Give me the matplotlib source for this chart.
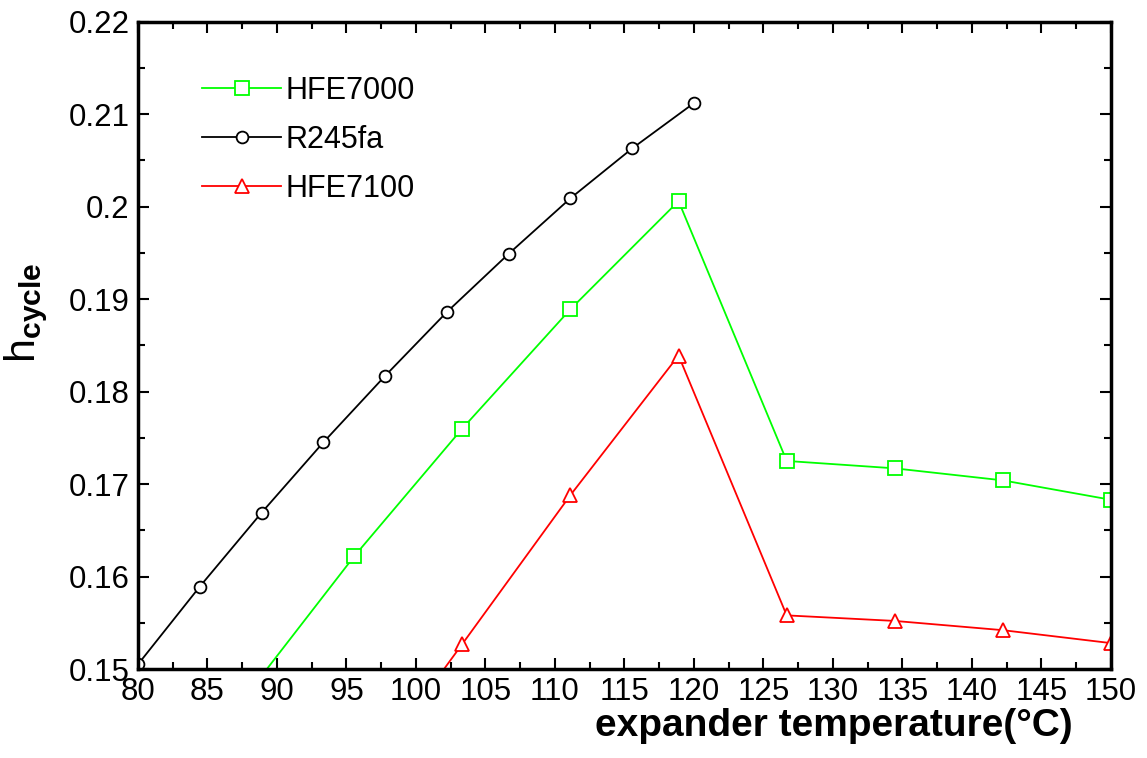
import numpy as np
import matplotlib
matplotlib.use('Agg')
import matplotlib.pyplot as plt

plt.rcParams['font.family'] = ['Liberation Sans', 'DejaVu Sans']
plt.rcParams['mathtext.fontset'] = 'custom'
plt.rcParams['mathtext.rm'] = 'Liberation Sans'
plt.rcParams['mathtext.bf'] = 'Liberation Sans:bold'

#Expander temperatures
t_r245fa = [80.0, 84.44, 88.89, 93.33, 97.78, 102.22, 106.67, 111.11, 115.56, 120.0]
t_hfe7000 = [87.78, 95.56, 103.33, 111.11, 118.89, 126.67, 134.44, 142.22, 150.0]
t_hfe7100 = [95.56, 103.33, 111.11, 118.89, 126.67, 134.44, 142.22, 150.0]
#Cycle efficiencies
eta_r245fa = [0.1505, 0.1589, 0.1669, 0.1745, 0.1817, 0.1886, 0.1949, 0.2009, 0.2063, 0.2112]
eta_hfe7000 = [0.1471, 0.1622, 0.1760, 0.1889, 0.2006, 0.1725, 0.1717, 0.1704, 0.1683]
eta_hfe7100 = [0.1367, 0.1527, 0.1688, 0.1839, 0.1558, 0.1552, 0.1542, 0.1528]

fig = plt.figure(figsize=(11.47, 7.58), dpi=100)
ax = fig.add_axes([0.1203, 0.1174, 0.8483, 0.854])

ax.plot(t_hfe7000, eta_hfe7000, color='#00ff00', lw=1.3, marker='s', ms=9.5,
        mfc='white', mec='#00ff00', mew=1.3, label='HFE7000')
ax.plot(t_r245fa, eta_r245fa, color='black', lw=1.3, marker='o', ms=8.5,
        mfc='white', mec='black', mew=1.3, label='R245fa')
ax.plot(t_hfe7100, eta_hfe7100, color='red', lw=1.3, marker='^', ms=9.5,
        mfc='white', mec='red', mew=1.3, label='HFE7100')

ax.set_xlim(80, 150)
ax.set_ylim(0.15, 0.22)
ax.set_xticks(np.arange(80, 151, 5))
ax.set_xticks(np.arange(82.5, 150, 5), minor=True)
ax.set_yticks(np.arange(0.15, 0.2201, 0.01))
ax.set_yticks(np.arange(0.155, 0.22, 0.01), minor=True)
ax.set_yticklabels(['0.15', '0.16', '0.17', '0.18', '0.19', '0.2', '0.21', '0.22'])

ax.tick_params(which='both', direction='in', top=True, right=True, labelsize=22.5, width=1.5)
ax.tick_params(which='major', length=8, pad=6)
ax.tick_params(which='minor', length=5)
for s in ax.spines.values():
    s.set_linewidth(2.5)

ax.set_xlabel('expander temperature(°C)', fontsize=28, fontweight='bold')
ax.xaxis.set_label_coords(0.715, -0.06)
ax.set_ylabel(r'$\mathrm{h}_{\mathbf{cycle}}$', fontsize=31)
ax.yaxis.set_label_coords(-0.09, 0.55)

ax.legend(loc='upper left', bbox_to_anchor=(0.05, 0.94), frameon=False, fontsize=22,
          handlelength=2.6, handletextpad=0.15, labelspacing=0.62, borderpad=0)

plt.savefig('out.png', dpi=100)
